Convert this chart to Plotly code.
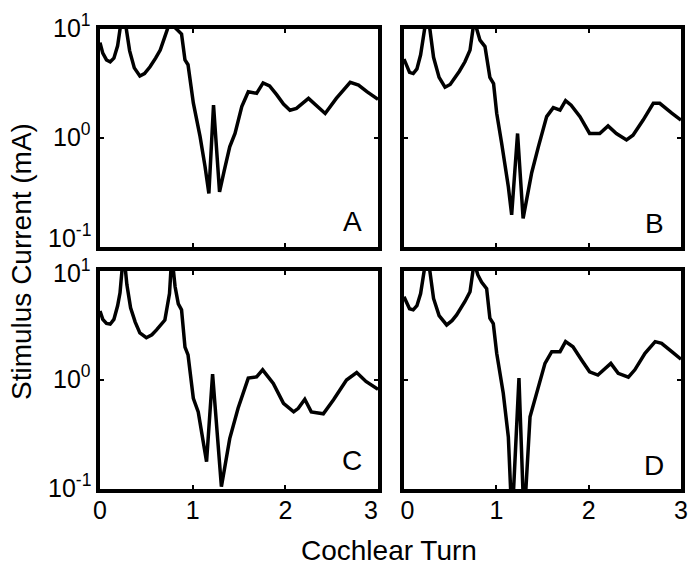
import math
import plotly.graph_objects as go

# ---- data (cochlear turn vs stimulus current, mA) ----
turn_A = [0, 0.03, 0.07, 0.11, 0.15, 0.19, 0.22, 0.25, 0.28, 0.32, 0.37, 0.43, 0.48, 0.54, 0.60,
          0.65, 0.70, 0.76, 0.80, 0.84, 0.88, 0.917, 0.95, 1.007, 1.08, 1.133, 1.175, 1.225, 1.29,
          1.34, 1.40, 1.457, 1.53, 1.60, 1.69, 1.76, 1.83, 1.906, 1.98, 2.05, 2.12, 2.25, 2.34,
          2.43, 2.55, 2.63, 2.70, 2.79, 2.88, 3.0]
current_A = [7.5, 6.0, 5.2, 5.0, 5.4, 7.0, 10.5, 14, 10.5, 6.3, 4.4, 3.7, 3.9, 4.5, 5.4,
             6.4, 8.5, 12, 10.5, 9.6, 9.0, 5.2, 4.7, 2.1, 1.03, 0.55, 0.31, 2.0, 0.32,
             0.5, 0.83, 1.1, 1.94, 2.66, 2.57, 3.2, 3.0, 2.5, 2.05, 1.8, 1.87, 2.31, 1.95,
             1.68, 2.31, 2.8, 3.24, 3.06, 2.66, 2.26]

turn_B = [0, 0.03, 0.06, 0.10, 0.14, 0.18, 0.21, 0.25, 0.28, 0.32, 0.38, 0.444, 0.50, 0.55, 0.60,
          0.66, 0.715, 0.76, 0.79, 0.823, 0.877, 0.93, 0.97, 1.004, 1.058, 1.13, 1.166, 1.23,
          1.29, 1.383, 1.455, 1.545, 1.617, 1.69, 1.75, 1.81, 1.906, 2.01, 2.12, 2.21, 2.30,
          2.41, 2.48, 2.59, 2.70, 2.77, 2.90, 3.0]
current_B = [5.3, 4.5, 4.0, 3.9, 4.3, 5.8, 8.5, 14, 10, 5.5, 3.6, 2.92, 3.1, 3.52, 4.1,
             5.0, 6.4, 12, 10, 7.9, 6.9, 3.6, 3.16, 1.69, 0.89, 0.357, 0.197, 1.1,
             0.183, 0.48, 0.83, 1.57, 1.9, 1.8, 2.2, 2.0, 1.57, 1.1, 1.1, 1.29, 1.1,
             0.96, 1.06, 1.46, 2.08, 2.08, 1.69, 1.46]

turn_C = [0, 0.03, 0.07, 0.11, 0.15, 0.19, 0.216, 0.255, 0.29, 0.33, 0.38, 0.43, 0.50, 0.56,
          0.61, 0.70, 0.75, 0.775, 0.81, 0.845, 0.88, 0.917, 0.95, 1.007, 1.06, 1.15, 1.215,
          1.31, 1.40, 1.49, 1.60, 1.69, 1.755, 1.87, 1.98, 2.09, 2.14, 2.21, 2.28, 2.41, 2.52,
          2.66, 2.77, 2.87, 3.0]
current_C = [4.3, 3.6, 3.3, 3.25, 3.6, 4.8, 6.3, 15, 7.5, 4.6, 3.4, 2.7, 2.44, 2.6,
             2.88, 3.55, 6.2, 14, 7.2, 5.0, 4.4, 2.0, 1.7, 0.68, 0.51, 0.178, 1.13,
             0.105, 0.29, 0.55, 1.04, 1.07, 1.24, 0.93, 0.61, 0.51, 0.55, 0.665, 0.51, 0.49, 0.66,
             1.0, 1.17, 0.97, 0.82]

turn_D = [0, 0.03, 0.06, 0.10, 0.14, 0.18, 0.21, 0.245, 0.28, 0.32, 0.38, 0.462, 0.52, 0.57,
          0.66, 0.715, 0.76, 0.80, 0.84, 0.895, 0.93, 0.967, 1.004, 1.075, 1.13, 1.17, 1.245,
          1.30, 1.365, 1.437, 1.527, 1.60, 1.69, 1.75, 1.83, 1.925, 2.01, 2.10, 2.18, 2.24,
          2.32, 2.43, 2.50, 2.61, 2.72, 2.79, 2.90, 3.0]
current_D = [5.8, 5.0, 4.5, 4.4, 4.8, 6.2, 9.0, 14, 10, 5.6, 3.9, 3.2, 3.5, 3.95,
             5.25, 6.45, 12, 9.2, 7.9, 6.9, 3.7, 3.3, 1.76, 0.755, 0.30, 0.05, 1.04,
             0.05, 0.46, 0.76, 1.42, 1.82, 1.82, 2.25, 2.02, 1.52, 1.19, 1.11, 1.28, 1.42,
             1.15, 1.06, 1.24, 1.76, 2.25, 2.17, 1.82, 1.55]

panel_labels = ["A", "B", "C", "D"]
x_ticks = [0, 1, 2, 3]
x_ticktext_left = ["0", "1", "2", "3\u00a0\u00a0"]
x_ticktext_right = ["\u00a00", "1", "2", "3"]
y_tickvals = [0.1, 1, 10]
y_ticktext = ["10<sup>-1</sup>", "10<sup>0</sup>", "10<sup>1</sup>"]

W, H = 689, 568
FONT = "Liberation Sans, Arial, sans-serif"
TICK_SIZE = 25

series = [(turn_A, current_A), (turn_B, current_B), (turn_C, current_C), (turn_D, current_D)]
# pixel boxes (left, right, top, bottom)
boxes = [(100, 378, 29, 247), (404, 681, 29, 247), (100, 378, 271, 489), (404, 681, 271, 489)]
label_pos = [(0.95, 0.115), (0.945, 0.11), (0.95, 0.13), (0.945, 0.11)]
# vertical nudges (px) of the y tick labels, per panel (bottom, middle, top)
ytick_nudge = {0: [11, 3, 3], 2: [3, 3, 0]}

fig = go.Figure()
layout = dict(
    template="none",
    width=W, height=H, margin=dict(l=0, r=0, t=0, b=0, autoexpand=False),
    paper_bgcolor="white", plot_bgcolor="white", showlegend=False,
    font=dict(family=FONT, size=TICK_SIZE, color="black"),
)
annotations = []
for i, ((xs, ys), (l, r, t, b), lab, (lx, ly)) in enumerate(
        zip(series, boxes, panel_labels, label_pos)):
    n = "" if i == 0 else str(i + 1)
    fig.add_trace(go.Scatter(x=xs, y=ys, mode="lines", xaxis="x" + n, yaxis="y" + n,
                             line=dict(color="black", width=3.5), hoverinfo="skip"))
    bottom_row = i >= 2
    left_col = i % 2 == 0
    layout["xaxis" + n] = dict(
        domain=[l / W, r / W], range=[0, 3], anchor="y" + n, automargin=False,
        tickvals=x_ticks, ticktext=x_ticktext_left if left_col else x_ticktext_right,
        showticklabels=bottom_row,
        ticks="inside", ticklen=4, tickwidth=1.5, tickcolor="black",
        showline=True, linewidth=3.5, linecolor="black", mirror="allticks",
        showgrid=False, zeroline=False, tickfont=dict(size=TICK_SIZE), ticklabelstandoff=-4,
    )
    layout["yaxis" + n] = dict(
        domain=[1 - b / H, 1 - t / H], type="log", range=[-1, 1], anchor="x" + n,
        automargin=False, tickvals=y_tickvals, showticklabels=False,
        ticks="inside", ticklen=4, tickwidth=1.5, tickcolor="black",
        showline=True, linewidth=3.5, linecolor="black", mirror="allticks",
        showgrid=False, zeroline=False,
    )
    if left_col:
        for val, txt, dy in zip(y_tickvals, y_ticktext, ytick_nudge[i]):
            annotations.append(dict(
                text=txt, xref="x" + n + " domain", yref="y" + n,
                x=0, y=math.log10(val), xanchor="right", yanchor="middle",
                xshift=-7, yshift=dy, showarrow=False,
                font=dict(size=TICK_SIZE, family=FONT, color="black"),
            ))
    annotations.append(dict(
        text=lab, xref="x" + n + " domain", yref="y" + n + " domain",
        x=lx, y=ly, xanchor="right", yanchor="middle", showarrow=False,
        font=dict(size=28, family=FONT, color="black"),
    ))

annotations.append(dict(text="Cochlear Turn", xref="paper", yref="paper",
                        x=389 / W, y=1 - 550 / H, xanchor="center", yanchor="middle",
                        showarrow=False, font=dict(size=28, family=FONT)))
annotations.append(dict(text="Stimulus Current (mA)", xref="paper", yref="paper",
                        x=22 / W, y=1 - 262 / H, xanchor="center", yanchor="middle",
                        textangle=-90, showarrow=False, font=dict(size=28, family=FONT)))
layout["annotations"] = annotations
fig.update_layout(**layout)
fig.write_html("out.html")
